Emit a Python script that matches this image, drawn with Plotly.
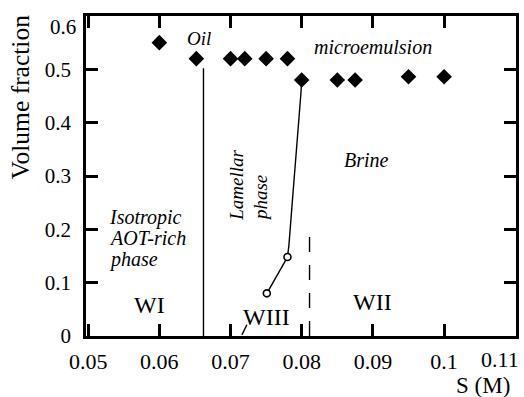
import plotly.graph_objects as go

# ---- data ----
micro_s = [0.060, 0.0652, 0.070, 0.072, 0.075, 0.078, 0.080, 0.085, 0.0875, 0.095, 0.100]
micro_vf = [0.55, 0.52, 0.52, 0.52, 0.52, 0.52, 0.48, 0.48, 0.48, 0.486, 0.486]

lam_s = [0.0751, 0.0780]
lam_vf = [0.080, 0.148]

boundary_s = [0.0780, 0.0782, 0.0787, 0.0793, 0.0799, 0.0800]
boundary_vf = [0.148, 0.170, 0.255, 0.348, 0.457, 0.48]

wi_line_s = [0.0662, 0.0662]
wi_line_vf = [0.0, 0.502]

wii_line_s = [0.0811, 0.0811]
wii_line_vf = [0.0, 0.195]

leader_s = [0.0716, 0.0723]
leader_vf = [0.002, 0.021]

x_ticks = [0.05, 0.06, 0.07, 0.08, 0.09, 0.10]
x_tick_text = ["0.05", "0.06", "0.07", "0.08", "0.09", "0.1"]
y_ticks = [0, 0.1, 0.2, 0.3, 0.4, 0.5]
y_tick_text = ["0", "0.1", "0.2", "0.3", "0.4", "0.5"]

SERIF = "Liberation Serif"
BLACK = "black"

fig = go.Figure()

line_style = dict(color=BLACK, width=1.4)
fig.add_trace(go.Scatter(x=wi_line_s, y=wi_line_vf, mode="lines", line=line_style))
fig.add_trace(go.Scatter(x=boundary_s, y=boundary_vf, mode="lines", line=line_style))
fig.add_trace(go.Scatter(x=lam_s, y=lam_vf, mode="lines", line=line_style))
fig.add_trace(go.Scatter(x=leader_s, y=leader_vf, mode="lines", line=line_style))
fig.add_trace(go.Scatter(x=wii_line_s, y=wii_line_vf, mode="lines",
                         line=dict(color=BLACK, width=1.4, dash="15px,13px")))

fig.add_trace(go.Scatter(x=micro_s, y=micro_vf, mode="markers",
                         marker=dict(symbol="diamond", size=12, color=BLACK)))
fig.add_trace(go.Scatter(x=lam_s, y=lam_vf, mode="markers",
                         marker=dict(symbol="circle", size=7, color="white",
                                     line=dict(color=BLACK, width=1.6))))

ann = []
def txt(x, y, s, size=20, italic=True, xanchor="center", yanchor="middle", angle=0, xref="x", yref="y", **kw):
    t = "<i>%s</i>" % s if italic else s
    ann.append(dict(x=x, y=y, xref=xref, yref=yref, text=t, showarrow=False,
                    font=dict(family=SERIF, size=size, color=BLACK),
                    xanchor=xanchor, yanchor=yanchor, textangle=angle, **kw))

txt(0.0656, 0.558, "Oil", size=19)
txt(0.0900, 0.541, "microemulsion", size=20)
txt(0.0891, 0.330, "Brine", size=20)
txt(0.05265, 0.222, "Isotropic", size=20, xanchor="left")
txt(0.05265, 0.183, "AOT-rich", size=20, xanchor="left")
txt(0.05265, 0.144, "phase", size=20, xanchor="left")
txt(0.07092, 0.2116, "Lamellar", size=19, yanchor="bottom", angle=-90)
txt(0.07413, 0.2116, "phase", size=19, yanchor="bottom", angle=-90)
txt(0.05865, 0.058, "WI", size=24, italic=False)
txt(0.0751, 0.0356, "WIII", size=24, italic=False)
txt(0.0899, 0.0637, "WII", size=24, italic=False)
# outer labels
txt(-0.152, 0.747, "Volume fraction", size=25.5, italic=False, xref="paper", yref="paper", angle=-90)
txt(1.0, -0.155, "S (M)", size=23, italic=False, xanchor="right", xref="paper", yref="paper", xshift=-4)
txt(1.0, -0.028, "0.11", size=22, italic=False, xanchor="right", yanchor="top",
    xref="paper", yref="paper", xshift=5)
txt(0.0, 0.6, "0.6", size=21, italic=False, xanchor="right", xref="paper", xshift=-8, yshift=-11)

axis_common = dict(showgrid=False, zeroline=False, showline=True, linecolor=BLACK,
                   linewidth=2.5, mirror="ticks", ticks="inside", ticklen=12,
                   tickwidth=2.5, tickcolor=BLACK)

fig.update_layout(
    width=524, height=397,
    margin=dict(l=86, r=5, t=16, b=61),
    paper_bgcolor="white", plot_bgcolor="white",
    showlegend=False,
    font=dict(family=SERIF, color=BLACK),
    xaxis=dict(range=[0.0497, 0.1101], tickvals=x_ticks, ticktext=x_tick_text,
               ticklabelstandoff=4, tickfont=dict(family=SERIF, size=22, color=BLACK),
               **axis_common),
    yaxis=dict(range=[0, 0.6], tickvals=y_ticks, ticktext=y_tick_text,
               ticklabelstandoff=8, tickfont=dict(family=SERIF, size=21, color=BLACK),
               **axis_common),
    annotations=ann,
)

fig.write_html("out.html")
